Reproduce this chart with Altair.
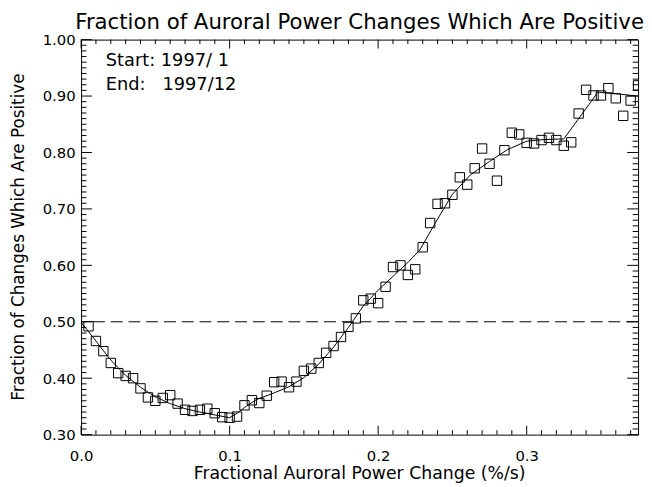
import altair as alt
import pandas as pd

# ---------------- data ----------------
point_x = [0.005, 0.010, 0.015, 0.020, 0.025, 0.030, 0.035, 0.040, 0.045, 0.050,
           0.055, 0.060, 0.065, 0.070, 0.075, 0.080, 0.085, 0.090, 0.095, 0.100,
           0.105, 0.110, 0.115, 0.120, 0.125, 0.130, 0.135, 0.140, 0.145, 0.150,
           0.155, 0.160, 0.165, 0.170, 0.175, 0.180, 0.185, 0.190, 0.195, 0.200,
           0.205, 0.210, 0.215, 0.220, 0.225, 0.230, 0.235, 0.240, 0.245, 0.250,
           0.255, 0.260, 0.265, 0.270, 0.275, 0.280, 0.285, 0.290, 0.295, 0.300,
           0.305, 0.310, 0.315, 0.320, 0.325, 0.330, 0.335, 0.340, 0.345, 0.350,
           0.355, 0.360, 0.365, 0.370, 0.375]
point_y = [0.492, 0.466, 0.448, 0.427, 0.409, 0.404, 0.400, 0.382, 0.366, 0.360,
           0.365, 0.370, 0.355, 0.344, 0.342, 0.344, 0.346, 0.338, 0.331, 0.330,
           0.332, 0.352, 0.361, 0.356, 0.369, 0.393, 0.394, 0.384, 0.394, 0.413,
           0.417, 0.427, 0.445, 0.457, 0.473, 0.491, 0.506, 0.538, 0.541, 0.533,
           0.562, 0.597, 0.600, 0.583, 0.593, 0.632, 0.675, 0.709, 0.710, 0.725,
           0.756, 0.743, 0.772, 0.807, 0.780, 0.750, 0.804, 0.835, 0.832, 0.817,
           0.816, 0.822, 0.826, 0.822, 0.812, 0.818, 0.869, 0.911, 0.901, 0.901,
           0.914, 0.896, 0.865, 0.892, 0.919]

curve_x = [0.000, 0.010, 0.020, 0.030, 0.040, 0.050, 0.060, 0.070, 0.080, 0.090,
           0.100, 0.105, 0.110, 0.118, 0.130, 0.140, 0.150, 0.160, 0.170, 0.180,
           0.190, 0.200, 0.211, 0.220, 0.228, 0.240, 0.250, 0.262, 0.275, 0.287,
           0.300, 0.312, 0.325, 0.335, 0.348, 0.360, 0.375]
curve_y = [0.499, 0.466, 0.432, 0.405, 0.384, 0.367, 0.355, 0.346, 0.340, 0.335,
           0.330, 0.338, 0.348, 0.362, 0.374, 0.385, 0.401, 0.425, 0.455, 0.490,
           0.528, 0.556, 0.583, 0.605, 0.627, 0.682, 0.726, 0.760, 0.784, 0.805,
           0.820, 0.823, 0.824, 0.860, 0.907, 0.904, 0.900]

reference_level = [0.5]

x_major_ticks = [0.0, 0.1, 0.2, 0.3]
x_minor_ticks = [round(i * 0.01, 2) for i in range(38) if i % 10 != 0]
y_major_ticks = [0.3, 0.4, 0.5, 0.6, 0.7, 0.8, 0.9, 1.0]
y_minor_ticks = [round(0.3 + i * 0.01, 2) for i in range(71) if i % 10 != 0]

title_text = "Fraction of Auroral Power Changes Which Are Positive"
x_title = "Fractional Auroral Power Change (%/s)"
y_title = "Fraction of Changes Which Are Positive"
start_text = "Start: 1997/ 1"
end_text = "End:\u00a0\u00a0\u00a01997/12"

# ---------------- chart ----------------
W, H = 564, 400
FONT = "DejaVu Sans"
xs = alt.Scale(domain=[0.0, 0.375], nice=False, zero=False)
ys = alt.Scale(domain=[0.3, 1.0], nice=False, zero=False)

x_axis = alt.Axis(values=x_major_ticks, format=".1f", ticks=False, tickSize=0,
                  domain=False, grid=False, labelFontSize=15, labelFont=FONT,
                  labelColor="black", labelPadding=14, labelFlush=False, title=None)
y_axis = alt.Axis(values=y_major_ticks, format=".2f", ticks=False, tickSize=0,
                  domain=False, grid=False, labelFontSize=15, labelFont=FONT,
                  labelColor="black", labelPadding=6, labelFlush=False, title=None)


def X(field):
    return alt.X(field, type="quantitative", scale=xs, axis=x_axis, title=None)


def Y(field):
    return alt.Y(field, type="quantitative", scale=ys, axis=y_axis, title=None)


pts = pd.DataFrame({"x": point_x, "y": point_y})
crv = pd.DataFrame({"x": curve_x, "y": curve_y})

points = alt.Chart(pts).mark_point(
    shape="square", filled=False, size=90, color="black", strokeWidth=1, opacity=1, clip=True
).encode(x=X("x"), y=Y("y"))

curve = alt.Chart(crv).mark_line(color="black", strokeWidth=1, clip=True).encode(
    x=X("x"), y=Y("y"))

level = alt.Chart(pd.DataFrame({"y": reference_level})).mark_rule(
    color="black", strokeWidth=1, strokeDash=[12, 6]
).encode(y=Y("y"))


def xticks(vals, length, top):
    df = pd.DataFrame({"x": vals})
    if top:
        y0, y1 = 0, length
    else:
        y0, y1 = H, H - length
    return alt.Chart(df).mark_rule(color="black", strokeWidth=1).encode(
        x=X("x"), y=alt.value(y0), y2=alt.value(y1))


def yticks(vals, length, right):
    df = pd.DataFrame({"y": vals})
    if right:
        x0, x1 = W, W - length
    else:
        x0, x1 = 0, length
    return alt.Chart(df).mark_rule(color="black", strokeWidth=1).encode(
        y=Y("y"), x=alt.value(x0), x2=alt.value(x1))


tick_layers = [
    xticks(x_major_ticks, 9, False), xticks(x_minor_ticks, 4.5, False),
    xticks(x_major_ticks, 9, True), xticks(x_minor_ticks, 4.5, True),
    yticks(y_major_ticks, 11, False), yticks(y_minor_ticks, 5.5, False),
    yticks(y_major_ticks, 11, True), yticks(y_minor_ticks, 5.5, True),
]


def label(text, x, y, size, angle=0, align="center", baseline="alphabetic"):
    kw = dict(text=text, font=FONT, fontSize=size, color="black", align=align, baseline=baseline)
    if angle:
        kw["angle"] = angle
    return alt.Chart(pd.DataFrame({"a": [0]})).mark_text(**kw).encode(
        x=alt.value(x), y=alt.value(y))


texts = [
    label(title_text, W / 2, -11, 21.5),
    label(x_title, W / 2, 445, 17.5),
    label(y_title, -63, H / 2, 17, angle=270, baseline="middle"),
    label(start_text, 25, 27, 18, align="left"),
    label(end_text, 25, 51, 18, align="left"),
]

chart = alt.layer(points, curve, level, *tick_layers, *texts).properties(
    width=W, height=H,
    padding={"left": 74, "top": 29, "right": 6, "bottom": 50},
    autosize=alt.AutoSizeParams(type="none"),
    background="white",
).configure_view(stroke="black", strokeWidth=1)

chart.save("out.html", embed_options={"renderer": "svg", "actions": False})
